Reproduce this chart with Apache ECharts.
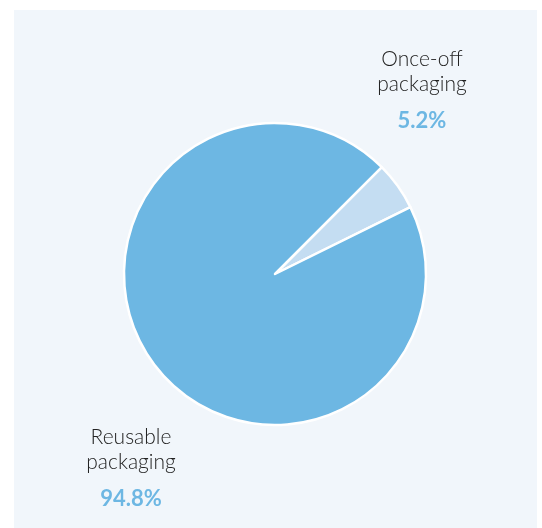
<!DOCTYPE html>
<html><head><meta charset="utf-8">
<script src="https://cdn.jsdelivr.net/npm/echarts@6/dist/echarts.min.js"></script>
<style>html,body{margin:0;padding:0;background:#fff}#c{width:542px;height:528px}</style>
</head><body><div id="c"></div>
<script>
const categories = ["Once-off\npackaging", "Reusable\npackaging"];
const values = [5.2, 94.8];
const colors = ["#c4ddf2", "#6db7e3"];

const chart = echarts.init(document.getElementById('c'));
const labelPos = [{x: 422, y: 47}, {x: 131, y: 425}];
chart.setOption({
  backgroundColor: '#ffffff',
  graphic: [{type: 'rect', shape: {x: 14, y: 10, width: 523, height: 520}, style: {fill: '#f1f6fb'}, z: -10}],
  series: [{
    type: 'pie',
    center: [275, 274],
    radius: 151,
    startAngle: 45,
    clockwise: true,
    animation: false,
    itemStyle: {borderColor: '#ffffff', borderWidth: 2.5},
    label: {
      show: true,
      position: 'outside',
      overflow: 'none',
      edgeDistance: 0,
      formatter: p => '{n|' + p.name + '}\n{v|' + p.value.toFixed(1) + '%}',
      rich: {
        n: {fontFamily: 'Lato', fontWeight: 300, fontSize: 21, lineHeight: 25, color: '#222222', align: 'center'},
        v: {fontFamily: 'Lato', fontWeight: 'bold', fontSize: 22, lineHeight: 38, color: '#6db7e3', align: 'center', padding: [10, 0, 0, 0]}
      }
    },
    labelLine: {show: false},
    labelLayout: p => ({x: labelPos[p.dataIndex].x, y: labelPos[p.dataIndex].y, align: 'center', verticalAlign: 'top'}),
    emphasis: {disabled: true},
    data: categories.map((c, i) => ({name: c, value: values[i], itemStyle: {color: colors[i]}}))
  }]
});
</script></body></html>
